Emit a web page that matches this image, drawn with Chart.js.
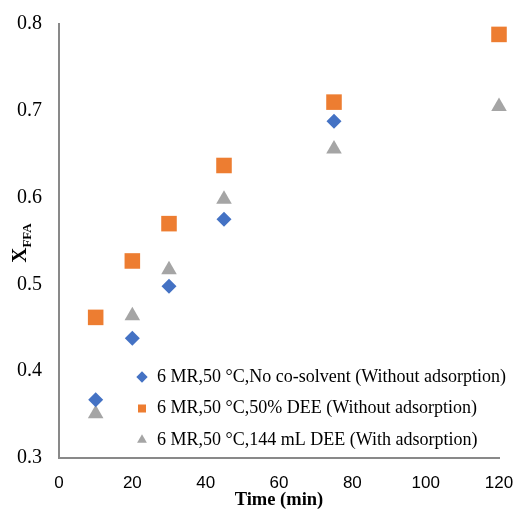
<!DOCTYPE html>
<html>
<head>
<meta charset="utf-8">
<script src="https://cdn.jsdelivr.net/npm/chart.js@4.4.0/dist/chart.umd.min.js"></script>
<style>
  html, body { margin: 0; padding: 0; background: #fff; }
  #wrap { width: 521px; height: 511px; }
</style>
</head>
<body>
<div id="wrap"><canvas id="grafik" width="521" height="511"></canvas></div>
<script>
// data
const waktuA = [10, 20, 30, 45, 75];
const waktuB = [10, 20, 30, 45, 75, 120];
const xffaNoCosolvent = [0.367, 0.438, 0.498, 0.575, 0.688];
const xffaDee50 = [0.462, 0.527, 0.570, 0.637, 0.710, 0.788];
const xffaDee144 = [0.351, 0.464, 0.517, 0.598, 0.656, 0.705];
const xTicks = [0, 20, 40, 60, 80, 100, 120];
const yTicks = [0.3, 0.4, 0.5, 0.6, 0.7, 0.8];
const labels = [
  '6 MR,50 °C,No co-solvent (Without adsorption)',
  '6 MR,50 °C,50% DEE (Without adsorption)',
  '6 MR,50 °C,144 mL DEE (With adsorption)'
];

const toPoints = (xs, ys) => xs.map((x, i) => ({ x: x, y: ys[i] }));

// move the legend inside the plot, bottom right
const legendMover = {
  id: 'legendMover',
  afterLayout(chart) {
    const lg = chart.legend;
    lg.left = 122.5;
    lg.top = 354.5;
    lg.right = 521;
    lg.bottom = 511;
    lg.width = lg.right - lg.left;
    lg.height = lg.bottom - lg.top;
  }
};

// y title with subscript
const yTitle = {
  id: 'yTitle',
  afterDraw(chart) {
    const ctx = chart.ctx;
    ctx.save();
    ctx.translate(26, 243);
    ctx.rotate(-Math.PI / 2);
    ctx.fillStyle = '#000';
    ctx.textBaseline = 'alphabetic';
    ctx.font = 'bold 21px "Liberation Serif"';
    const xw = ctx.measureText('X').width;
    ctx.font = 'bold 13px "Liberation Serif"';
    const sw = ctx.measureText('FFA').width;
    const start = -(xw + sw) / 2;
    ctx.font = 'bold 21px "Liberation Serif"';
    ctx.fillText('X', start, 0);
    ctx.font = 'bold 13px "Liberation Serif"';
    ctx.fillText('FFA', start + xw, 5);
    ctx.restore();
  }
};

Chart.defaults.font.family = '"Liberation Serif"';
Chart.defaults.color = '#000';

const ctx = document.getElementById('grafik').getContext('2d');
new Chart(ctx, {
  type: 'scatter',
  data: {
    datasets: [{
      label: labels[0],
      data: toPoints(waktuA, xffaNoCosolvent),
      pointStyle: 'rectRot',
      pointRadius: 7.5,
      pointHoverRadius: 7.5,
      backgroundColor: '#4472C4',
      borderColor: '#4472C4',
      borderWidth: 0,
      clip: false
    }, {
      label: labels[1],
      data: toPoints(waktuB, xffaDee50),
      pointStyle: 'rect',
      pointRadius: 11,
      pointHoverRadius: 11,
      backgroundColor: '#ED7D31',
      borderColor: '#ED7D31',
      borderWidth: 0,
      clip: false
    }, {
      label: labels[2],
      data: toPoints(waktuB, xffaDee144),
      pointStyle: 'triangle',
      pointRadius: 9,
      pointHoverRadius: 9,
      backgroundColor: '#A5A5A5',
      borderColor: '#A5A5A5',
      borderWidth: 0,
      clip: false
    }]
  },
  options: {
    responsive: false,
    animation: false,
    layout: { padding: { left: 0, top: 24, right: 22, bottom: 0 } },
    plugins: {
      tooltip: { enabled: false },
      legend: {
        position: 'chartArea',
        align: 'start',
        labels: {
          usePointStyle: true,
          boxWidth: 12,
          boxHeight: 8,
          padding: 13.5,
          font: { size: 18, family: '"Liberation Serif"' },
          color: '#000'
        }
      }
    },
    scales: {
      x: {
        type: 'linear',
        min: 0,
        max: 120,
        afterBuildTicks: (s) => { s.ticks = xTicks.map(v => ({ value: v })); },
        afterFit: (s) => { s.height = 53; s.paddingLeft = 0; s.paddingRight = 0; },
        grid: { display: false, drawTicks: false },
        border: { display: true, color: '#898989', width: 2 },
        ticks: {
          padding: 15,
          font: { size: 17, family: '"Liberation Sans"' },
          color: '#000'
        },
        title: {
          display: true,
          text: 'Time (min)',
          font: { size: 18.5, weight: 'bold', family: '"Liberation Serif"' },
          padding: { top: 0, bottom: 0 },
          color: '#000'
        }
      },
      y: {
        type: 'linear',
        min: 0.3,
        max: 0.8,
        afterBuildTicks: (s) => { s.ticks = yTicks.map(v => ({ value: v })); },
        afterFit: (s) => { s.width = 59; s.paddingTop = 0; s.paddingBottom = 0; },
        grid: { display: false, drawTicks: false },
        border: { display: true, color: '#898989', width: 2 },
        ticks: {
          padding: 17,
          font: { size: 20, family: '"Liberation Serif"' },
          color: '#000',
          callback: (v) => Number(v).toFixed(1)
        }
      }
    }
  },
  plugins: [legendMover, yTitle]
});
</script>
</body>
</html>
